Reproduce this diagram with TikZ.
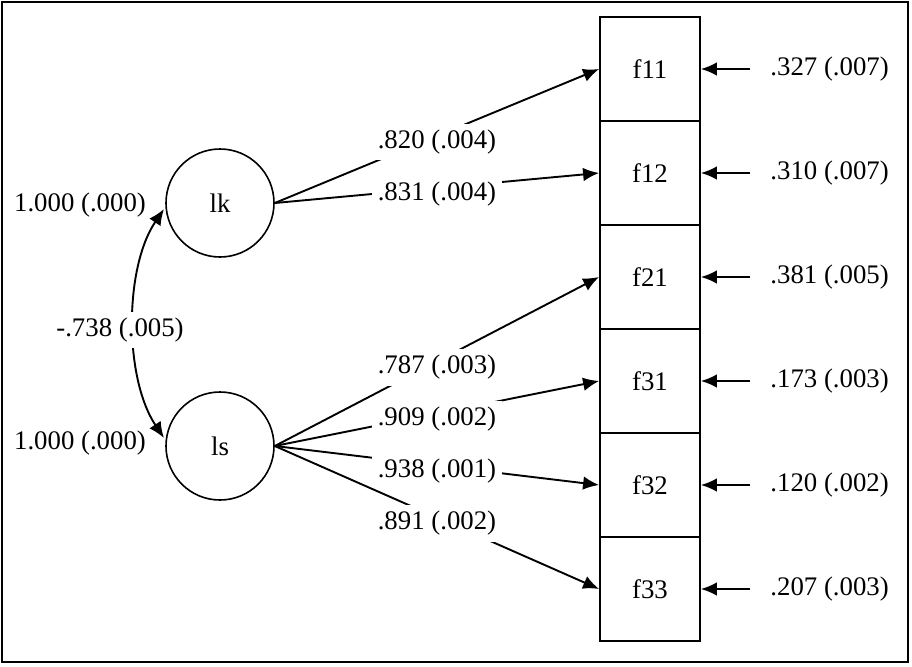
\documentclass[tikz,border=0pt]{standalone}
\usepackage{fontspec}
\setmainfont{Liberation Serif}
\usetikzlibrary{arrows.meta}
\begin{document}
\begin{tikzpicture}[x=0.5pt,y=-0.5pt,
  every node/.style={font=\fontsize{13.4}{15}\selectfont},
  obs/.style={draw,line width=0.9pt,rectangle,minimum width=50pt,minimum height=52pt,inner sep=0pt},
  lat/.style={draw,line width=0.8pt,circle,minimum size=54pt,inner sep=0pt},
  arr/.style={line width=0.95pt,-{Latex[length=8pt,width=6.8pt]}},
  lbl/.style={fill=white,inner xsep=3pt,inner ysep=3pt,pos=0.5,yshift=-3pt},
  txt/.style={inner sep=0pt}]
\useasboundingbox (0,0) rectangle (912,666);
\draw[line width=1.3pt] (2,2) rectangle (908,662);
% observed
\node[obs] (f11) at (650,69) {f11};
\node[obs] (f12) at (650,173) {f12};
\node[obs] (f21) at (650,277) {f21};
\node[obs] (f31) at (650,381) {f31};
\node[obs] (f32) at (650,485) {f32};
\node[obs] (f33) at (650,589) {f33};
% latent
\node[lat] (lk) at (220,203) {lk};
\node[lat] (ls) at (220,446) {ls};
% variances
\node[txt] (vk) at (80,205) {1.000 (.000)};
\node[txt] (vs) at (80,443) {1.000 (.000)};
% covariance
\coordinate (ct) at (164,209);
\coordinate (cb) at (164,438);
\draw[line width=0.95pt,{Latex[length=8pt,width=6.8pt]}-{Latex[length=8pt,width=6.8pt]}]
  (ct) .. controls (124,268) and (124,378) .. (cb);
\node[fill=white,inner xsep=1pt,inner ysep=3pt] (cv) at (120,330) {-.738 (.005)};
% loadings
\draw[arr] (lk.east) -- node[lbl] {.820 (.004)} (f11.west);
\draw[arr] (lk.east) -- node[lbl] {.831 (.004)} (f12.west);
\draw[arr] (ls.east) -- node[lbl] {.787 (.003)} (f21.west);
\draw[arr] (ls.east) -- node[lbl] {.909 (.002)} (f31.west);
\draw[arr] (ls.east) -- node[lbl] {.938 (.001)} (f32.west);
\draw[arr] (ls.east) -- node[lbl] {.891 (.002)} (f33.west);
% residuals
\node[txt,anchor=west] (r11) at (770,69) {.327 (.007)};
\node[txt,anchor=west] (r12) at (770,173) {.310 (.007)};
\node[txt,anchor=west] (r21) at (770,277) {.381 (.005)};
\node[txt,anchor=west] (r31) at (770,381) {.173 (.003)};
\node[txt,anchor=west] (r32) at (770,485) {.120 (.002)};
\node[txt,anchor=west] (r33) at (770,589) {.207 (.003)};
\foreach \a in {11,12,21,31,32,33}{
  \draw[arr,shorten <=10pt] (r\a.west) -- (f\a.east);
}
\end{tikzpicture}
\end{document}
